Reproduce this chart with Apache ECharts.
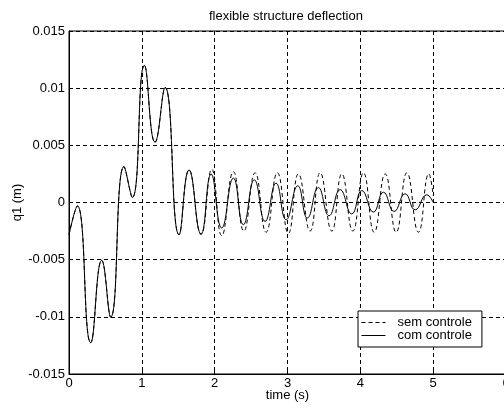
<!DOCTYPE html>
<html>
<head>
<meta charset="utf-8">
<script src="https://cdn.jsdelivr.net/npm/echarts@6/dist/echarts.min.js"></script>
<style>
  html, body { margin: 0; padding: 0; background: #fff; }
  #chart { width: 504px; height: 409px; }
</style>
</head>
<body>
<div id="chart"></div>
<script>
// shared part of both responses (curves overlap until ~1.8 s)
var commonT = [0, 0.114, 0.298, 0.449, 0.573, 0.755, 0.87, 1.035, 1.181, 1.319, 1.511, 1.648];
var commonV = [-0.0028, -0.0003, -0.01226, -0.00506, -0.01003, 0.00314, 0.00044, 0.0120, 0.00527, 0.01006, -0.00282, 0.00285];

// sem controle (dashed)
var semT = [1.813, 1.96, 2.097, 2.257, 2.40, 2.555, 2.706, 2.861, 3.012, 3.15, 3.31, 3.448, 3.608, 3.746, 3.897, 4.043, 4.19, 4.341, 4.492, 4.639, 4.798, 4.94, 5.0];
var semV = [-0.0028, 0.0029, -0.0029, 0.0027, -0.0025, 0.0026, -0.0026, 0.0026, -0.0027, 0.0025, -0.0025, 0.0026, -0.0025, 0.0025, -0.0025, 0.0026, -0.0026, 0.0025, -0.0026, 0.0026, -0.0026, 0.0025, 0.0006];

// com controle (solid)
var comT = [1.813, 1.951, 2.097, 2.257, 2.394, 2.545, 2.692, 2.843, 2.981, 3.141, 3.273, 3.424, 3.571, 3.723, 3.883, 4.021, 4.18, 4.317, 4.464, 4.615, 4.753, 4.913, 5.0];
var comV = [-0.00276, 0.00248, -0.00223, 0.00213, -0.00194, 0.00198, -0.00165, 0.00169, -0.00151, 0.00146, -0.00136, 0.0013, -0.00116, 0.00112, -0.001, 0.00105, -0.00084, 0.0009, -0.00078, 0.00076, -0.00064, 0.00067, 0.0];

var seriesNames = ['sem controle', 'com controle'];
var xTicks = [0, 1, 2, 3, 4, 5, 6];
var yTicks = [-0.015, -0.01, -0.005, 0, 0.005, 0.01, 0.015];

function pairs(t, v) {
    var out = [];
    for (var i = 0; i < t.length; i++) out.push([t[i], v[i]]);
    return out;
}

var semData = pairs(commonT, commonV).concat(pairs(semT, semV));
var comData = pairs(commonT, commonV).concat(pairs(comT, comV));

var font = 'Liberation Sans, Arial, Helvetica, sans-serif';
var fs = 13;
var gridDash = { color: '#000', width: 1, type: [4, 3] };
var noSymbol = { color: 'rgba(0,0,0,0)', borderColor: 'rgba(0,0,0,0)', borderWidth: 0 };

var chart = echarts.init(document.getElementById('chart'));
chart.setOption({
    animation: false,
    backgroundColor: '#fff',
    title: {
        text: 'flexible structure deflection',
        left: 209,
        top: 10,
        padding: 0,
        textStyle: { fontFamily: font, fontSize: fs, fontWeight: 'normal', color: '#000' }
    },
    grid: {
        left: 69,
        top: 31,
        width: 437,
        height: 343,
        outerBoundsMode: 'none',
        containLabel: false,
        show: true,
        borderColor: '#000',
        borderWidth: 1,
        backgroundColor: '#fff'
    },
    legend: {
        orient: 'vertical',
        left: 358,
        top: 311,
        data: [
            { name: seriesNames[0], itemStyle: noSymbol, lineStyle: { color: '#000', width: 1, type: [4, 3] } },
            { name: seriesNames[1], itemStyle: noSymbol, lineStyle: { color: '#000', width: 1, type: 'solid' } }
        ],
        backgroundColor: '#fff',
        borderColor: '#000',
        borderWidth: 1,
        borderRadius: 0,
        padding: [5, 10, 5, 3],
        itemWidth: 24,
        itemHeight: 13,
        itemGap: 0,
        textStyle: { fontFamily: font, fontSize: fs, color: '#000', padding: [0, 0, 0, 7] }
    },
    xAxis: {
        type: 'value',
        min: xTicks[0],
        max: xTicks[xTicks.length - 1],
        interval: 1,
        name: 'time (s)',
        nameLocation: 'middle',
        nameGap: 15,
        nameMoveOverlap: false,
        nameTextStyle: { fontFamily: font, fontSize: fs, color: '#000', verticalAlign: 'top' },
        axisLine: { onZero: false, lineStyle: { color: '#000', width: 1 } },
        axisTick: { inside: true, length: 4, lineStyle: { color: '#000' } },
        axisLabel: { fontFamily: font, fontSize: fs, color: '#000', margin: 3 },
        splitLine: { show: true, lineStyle: gridDash }
    },
    yAxis: {
        type: 'value',
        min: yTicks[0],
        max: yTicks[yTicks.length - 1],
        interval: 0.005,
        name: 'q1 (m)',
        nameLocation: 'middle',
        nameRotate: 90,
        nameGap: 45,
        nameMoveOverlap: false,
        nameTextStyle: { fontFamily: font, fontSize: fs, color: '#000' },
        axisLine: { show: true, onZero: false, lineStyle: { color: '#000', width: 1 } },
        axisTick: { show: true, inside: true, length: 4, lineStyle: { color: '#000' } },
        axisLabel: {
            fontFamily: font, fontSize: fs, color: '#000', margin: 4,
            formatter: function (v) { return String(+v.toFixed(3)); }
        },
        splitLine: { show: true, lineStyle: gridDash }
    },
    series: [
        {
            name: seriesNames[0],
            type: 'line',
            data: semData,
            smooth: 0.5,
            symbol: 'none',
            lineStyle: { color: '#000', width: 1, type: [4, 3] },
            itemStyle: { color: '#000' }
        },
        {
            name: seriesNames[1],
            type: 'line',
            data: comData,
            smooth: 0.5,
            symbol: 'none',
            lineStyle: { color: '#000', width: 1, type: 'solid' },
            itemStyle: { color: '#000' }
        }
    ]
});
</script>
</body>
</html>
